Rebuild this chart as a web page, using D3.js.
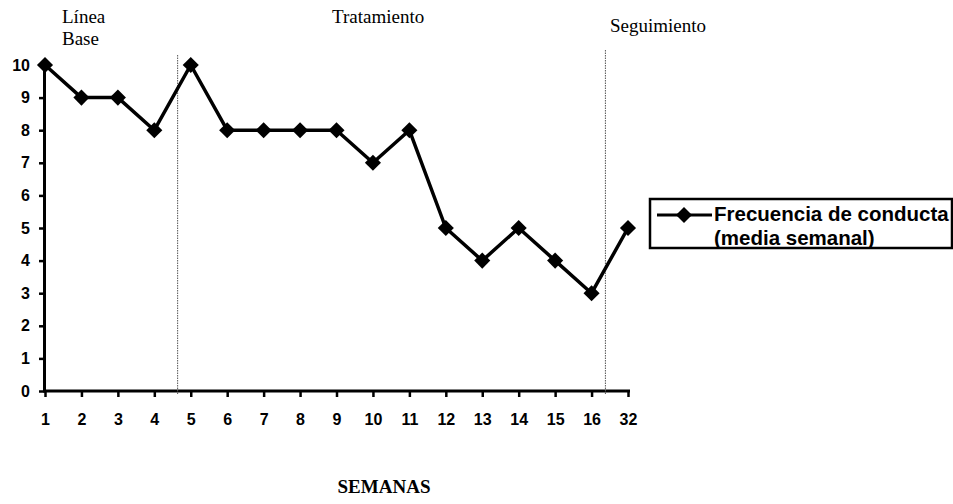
<!DOCTYPE html>
<html>
<head>
<meta charset="utf-8">
<script src="https://cdn.jsdelivr.net/npm/d3@7"></script>
<style>
  body { margin: 0; background: #fff; }
  .tick text { font-family: Arial, "Liberation Sans", sans-serif; font-weight: bold; font-size: 16px; }
  .phase { font-family: "Liberation Serif", "Times New Roman", serif; font-size: 19px; }
</style>
</head>
<body>
<script>
(function() {

  // Weeks shown on the x axis
  var weeks = ["1", "2", "3", "4", "5", "6", "7", "8", "9", "10", "11", "12", "13", "14", "15", "16", "32"];
  // Weekly mean frequency
  var frequency = [10, 9, 9, 8, 10, 8, 8, 8, 8, 7, 8, 5, 4, 5, 4, 3, 5];
  var yTicks = [0, 1, 2, 3, 4, 5, 6, 7, 8, 9, 10];
  // Phase boundaries: week after which the line sits, and how far toward the next week
  var phaseBreaks = [["4", "5", 0.64], ["16", "32", 0.38]];

  var width = 953, height = 504;
  var svg = d3.select("body").append("svg")
      .attr("width", width)
      .attr("height", height);

  var x = d3.scalePoint()
      .domain(weeks)
      .range([45, 628]);
  var y = d3.scaleLinear()
      .domain([0, 10])
      .range([391, 65]);

  // Axes
  var yAxis = svg.append("g")
      .attr("transform", "translate(45,0)")
      .call(d3.axisLeft(y).tickValues(yTicks).tickFormat(d3.format("d")).tickSize(6).tickPadding(9));
  var xAxis = svg.append("g")
      .attr("transform", "translate(0,391)")
      .call(d3.axisBottom(x).tickSize(6).tickPadding(17));
  [yAxis, xAxis].forEach(function(a) {
    a.select(".domain").attr("stroke", "#000").attr("stroke-width", 3);
    a.selectAll(".tick line").attr("stroke", "#000").attr("stroke-width", 2.5);
  });
  yAxis.select(".domain").attr("d", "M-0.5," + y(10) + "V" + (y(0) + 1.5));
  xAxis.select(".domain").attr("d", "M45,0H630");

  // Phase separators (dotted)
  var sepTop = [55, 50];
  phaseBreaks.forEach(function(p, i) {
    var sx = x(p[0]) + (x(p[1]) - x(p[0])) * p[2];
    svg.append("line")
        .attr("x1", sx).attr("x2", sx)
        .attr("y1", sepTop[i]).attr("y2", 395)
        .attr("stroke", "#555")
        .attr("stroke-width", 1)
        .attr("stroke-dasharray", "1.5,1");
  });

  // Phase labels
  var phases = [
    {t: ["Línea", "Base"], x: 62, y: 23},
    {t: ["Tratamiento"], x: 332, y: 23},
    {t: ["Seguimiento"], x: 610, y: 32}
  ];
  phases.forEach(function(p) {
    var txt = svg.append("text").attr("class", "phase").attr("x", p.x).attr("y", p.y);
    p.t.forEach(function(s, i) {
      txt.append("tspan").attr("x", p.x).attr("dy", i ? 22 : 0).text(s);
    });
  });

  // Line and diamonds
  var line = d3.line()
      .x(function(d, i) { return x(weeks[i]); })
      .y(function(d) { return y(d); });
  svg.append("path")
      .datum(frequency)
      .attr("d", line)
      .attr("fill", "none")
      .attr("stroke", "#000")
      .attr("stroke-width", 3.5)
      .attr("stroke-linejoin", "round");

  var diamond = d3.symbol().type(d3.symbolDiamond2).size(165);
  svg.selectAll(".pt")
      .data(frequency)
      .enter()
      .append("path")
      .attr("class", "pt")
      .attr("d", diamond)
      .attr("transform", function(d, i) { return "translate(" + x(weeks[i]) + "," + y(d) + ")"; })
      .attr("fill", "#000");

  // X axis title
  svg.append("text")
      .attr("x", 384).attr("y", 493)
      .attr("text-anchor", "middle")
      .attr("font-family", "'Liberation Serif', 'Times New Roman', serif")
      .attr("font-weight", "bold")
      .attr("font-size", 19)
      .text("SEMANAS");

  // Legend
  var lg = svg.append("g");
  lg.append("rect")
      .attr("x", 650).attr("y", 199)
      .attr("width", 302).attr("height", 49)
      .attr("fill", "none")
      .attr("stroke", "#000")
      .attr("stroke-width", 2.5);
  lg.append("line")
      .attr("x1", 657).attr("x2", 712)
      .attr("y1", 215).attr("y2", 215)
      .attr("stroke", "#000").attr("stroke-width", 3);
  lg.append("path")
      .attr("d", diamond)
      .attr("transform", "translate(684,215)")
      .attr("fill", "#000");
  var lt = lg.append("text")
      .attr("font-family", "Arial, 'Liberation Sans', sans-serif")
      .attr("font-weight", "bold")
      .attr("font-size", 20.5);
  lt.append("tspan").attr("x", 714).attr("y", 221).text("Frecuencia de conducta");
  lt.append("tspan").attr("x", 714).attr("y", 245).text("(media semanal)");

})();
</script>
</body>
</html>
